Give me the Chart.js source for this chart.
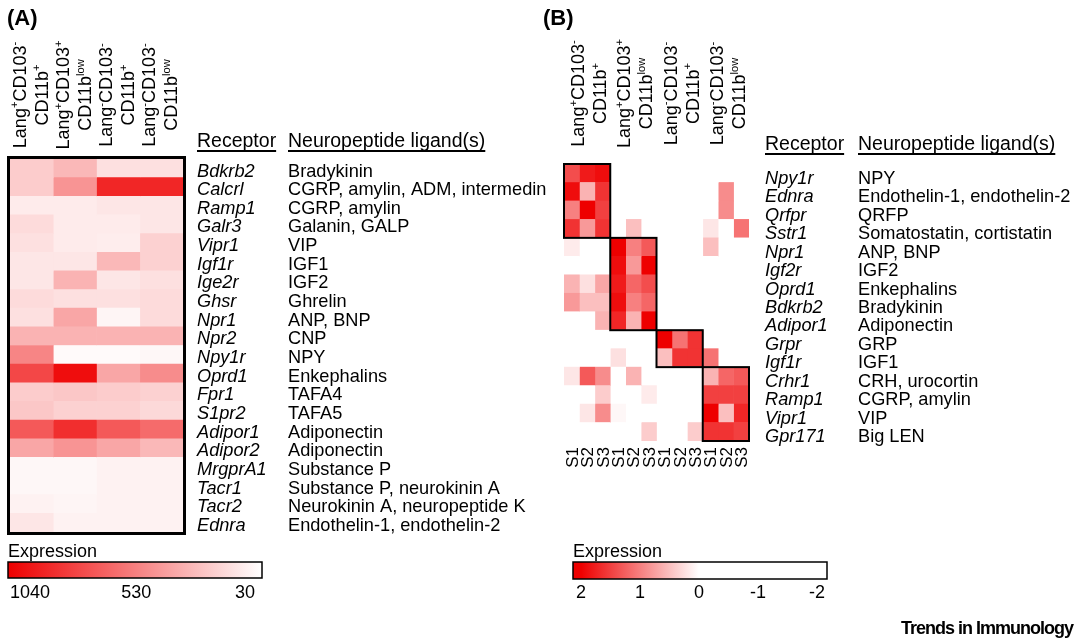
<!DOCTYPE html>
<html>
<head>
<meta charset="utf-8">
<script src="https://cdn.jsdelivr.net/npm/chart.js@4.4.1/dist/chart.umd.min.js"></script>
<style>
  html, body { margin: 0; padding: 0; background: #fff; }
  #wrap { position: relative; width: 1080px; height: 642px; overflow: hidden; }
  canvas { position: absolute; top: 0; }
  #chartA { left: 0; }
  #chartB { left: 540px; }
</style>
</head>
<body>
<div id="wrap">
  <canvas id="chartA" width="560" height="642"></canvas>
  <canvas id="chartB" width="540" height="642"></canvas>
</div>
<script>
const FONT = '"Liberation Sans", Arial, Helvetica, sans-serif';

// ---- Panel A : expression (raw) ----
const receptorsA = ['Bdkrb2', 'Calcrl', 'Ramp1', 'Galr3', 'Vipr1', 'Igf1r', 'Ige2r', 'Ghsr', 'Npr1', 'Npr2',
  'Npy1r', 'Oprd1', 'Fpr1', 'S1pr2', 'Adipor1', 'Adipor2', 'MrgprA1', 'Tacr1', 'Tacr2', 'Ednra'];
const ligandsA = ['Bradykinin', 'CGRP, amylin, ADM, intermedin', 'CGRP, amylin', 'Galanin, GALP', 'VIP', 'IGF1',
  'IGF2', 'Ghrelin', 'ANP, BNP', 'CNP', 'NPY', 'Enkephalins', 'TAFA4', 'TAFA5', 'Adiponectin', 'Adiponectin',
  'Substance P', 'Substance P, neurokinin A', 'Neurokinin A, neuropeptide K', 'Endothelin-1, endothelin-2'];

// one array per cell population (column)
const exprLangPosCD103NegCD11bPos = [232, 232, 111, 171, 151, 131, 131, 171, 151, 333, 515, 757, 232, 252, 687, 384, 60, 60, 81, 131];
const exprLangPosCD103PosCD11bLow = [313, 454, 111, 111, 111, 131, 333, 151, 384, 333, 50, 990, 252, 212, 858, 454, 60, 60, 70, 81];
const exprLangNegCD103NegCD11bPos = [151, 889, 131, 111, 101, 313, 131, 151, 70, 333, 50, 384, 232, 212, 687, 384, 81, 81, 81, 81];
const exprLangNegCD103NegCD11bLow = [151, 889, 131, 131, 212, 212, 151, 171, 171, 333, 60, 485, 212, 182, 616, 313, 81, 81, 81, 81];
const exprMin = 30, exprMax = 1040;
const legendATicks = [1040, 530, 30];

// column header labels: [text, superscript?]
const cellTypes = [
  [[['Lang'], ['+', 1], ['CD103'], ['-', 1]], [['CD11b'], ['+', 1]]],
  [[['Lang'], ['+', 1], ['CD103'], ['+', 1]], [['CD11b'], ['low', 1]]],
  [[['Lang'], ['-', 1], ['CD103'], ['-', 1]], [['CD11b'], ['+', 1]]],
  [[['Lang'], ['-', 1], ['CD103'], ['-', 1]], [['CD11b'], ['low', 1]]]
];

// ---- Panel B : z-scores, 3 samples per population ----
const receptorsB = ['Npy1r', 'Ednra', 'Qrfpr', 'Sstr1', 'Npr1', 'Igf2r', 'Oprd1', 'Bdkrb2', 'Adipor1', 'Grpr',
  'Igf1r', 'Crhr1', 'Ramp1', 'Vipr1', 'Gpr171'];
const ligandsB = ['NPY', 'Endothelin-1, endothelin-2', 'QRFP', 'Somatostatin, cortistatin', 'ANP, BNP', 'IGF2',
  'Enkephalins', 'Bradykinin', 'Adiponectin', 'GRP', 'IGF1', 'CRH, urocortin', 'CGRP, amylin', 'VIP', 'Big LEN'];
const samples = ['S1', 'S2', 'S3'];
// rows follow receptorsB, columns S1..S3 of each population in header order
const zScores = [
  [1.4, 1.8, 1.9, -1, -1, -1, -1, -1, -1, -1, -1, -1],
  [1.9, 0.6, 1.6, -1, -1, -1, -1, -1, -1, -1, 0.9, -1],
  [1.0, 2.0, 1.5, -1, -1, -1, -1, -1, -1, -1, 0.9, -1],
  [1.6, 0.8, 1.6, -1, 0.5, -1, -1, -1, -1, 0.2, -1, 1.1],
  [0.16, -1, -1, 2.0, 1.0, 1.3, -1, -1, -1, 0.5, -1, -1],
  [-1, -1, -1, 1.9, 0.8, 2.0, -1, -1, -1, -1, -1, -1],
  [0.6, 0.24, 0.7, 1.8, 1.2, 1.4, -1, -1, -1, -1, -1, -1],
  [0.8, 0.5, 0.5, 1.9, 1.0, 1.2, -1, -1, -1, -1, -1, -1],
  [-1, -1, 0.6, 1.7, 0.6, 2.0, -1, -1, -1, -1, -1, -1],
  [-1, -1, -1, -1, -1, -1, 2.0, 1.1, 1.6, -1, -1, -1],
  [-1, -1, -1, 0.24, -1, -1, 0.5, 1.6, 1.6, 1.1, -1, -1],
  [0.2, 1.3, 0.9, -1, 0.6, -1, -1, -1, -1, 0.6, 1.2, 1.3],
  [-1, -1, 0.4, -1, -1, 0.16, -1, -1, -1, 1.5, 1.5, 1.5],
  [-1, 0.2, 0.9, 0.06, -1, -1, -1, -1, -1, 2.0, 0.5, 1.7],
  [-1, -1, -1, -1, -1, 0.4, -1, -1, 0.4, 1.6, 1.6, 1.5]
];
// outlined blocks: first row, last row, first column, last column
const blocks = [[0, 3, 0, 2], [4, 8, 3, 5], [9, 10, 6, 8], [11, 14, 9, 11]];
const legendBTicks = [2, 1, 0, -1, -2];

const RED = [238, 0, 0];
function mix(t) {
  t = Math.max(0, Math.min(1, t));
  const c = RED.map(k => Math.round(255 + (k - 255) * t));
  return `rgb(${c[0]},${c[1]},${c[2]})`;
}
const colorA = v => mix((v - exprMin) / (exprMax - exprMin));
const colorB = z => mix(z / 2);

// rotated header with superscripts, baseline at x, centred on y
function drawRotated(ctx, segs, x, y, size) {
  ctx.save();
  ctx.translate(x, y);
  ctx.rotate(-Math.PI / 2);
  ctx.textAlign = 'left';
  ctx.textBaseline = 'alphabetic';
  let total = 0;
  segs.forEach(s => {
    ctx.font = `${s[1] ? size * 0.62 : size}px ${FONT}`;
    total += ctx.measureText(s[0]).width;
  });
  let px = -total / 2;
  segs.forEach(s => {
    ctx.font = `${s[1] ? size * 0.62 : size}px ${FONT}`;
    ctx.fillText(s[0], px, s[1] ? -size * 0.4 : 0);
    px += ctx.measureText(s[0]).width;
  });
  ctx.restore();
}

function drawTable(ctx, y, receptors, ligands, xr, xl, headY, offset) {
  ctx.fillStyle = '#000';
  ctx.textAlign = 'left';
  ctx.textBaseline = 'alphabetic';
  ctx.font = `19.5px ${FONT}`;
  ctx.fillText('Receptor', xr, headY);
  const wr = ctx.measureText('Receptor').width;
  ctx.fillText('Neuropeptide ligand(s)', xl, headY);
  const wl = ctx.measureText('Neuropeptide ligand(s)').width;
  ctx.fillRect(xr, headY + 3, wr, 2);
  ctx.fillRect(xl, headY + 3, wl, 2);
  receptors.forEach((r, i) => {
    const yy = y.getPixelForValue(i) + offset;
    ctx.font = `italic 18.2px ${FONT}`;
    ctx.fillText(r, xr, yy);
    ctx.font = `18.2px ${FONT}`;
    ctx.fillText(ligands[i], xl, yy);
  });
}

function drawLegend(ctx, x0, x1, y0, y1, vLeft, vRight, px0, px1, colLeft, colRight) {
  const map = v => px0 + (vLeft - v) / (vLeft - vRight) * (px1 - px0);
  ctx.fillStyle = '#000';
  ctx.font = `18px ${FONT}`;
  ctx.textAlign = 'left';
  ctx.fillText('Expression', x0, y0 - 5);
  const g = ctx.createLinearGradient(map(colLeft), 0, map(colRight), 0);
  g.addColorStop(0, mix(1));
  g.addColorStop(1, mix(0));
  ctx.fillStyle = g;
  ctx.fillRect(x0, y0, x1 - x0, y1 - y0);
  ctx.strokeStyle = '#000';
  ctx.lineWidth = 1.5;
  ctx.strokeRect(x0, y0, x1 - x0, y1 - y0);
  ctx.fillStyle = '#000';
  return map;
}

const panelA = {
  id: 'panelA',
  afterDatasetsDraw(chart) {
    const { ctx, chartArea: ca, scales: { x, y } } = chart;
    ctx.save();
    ctx.strokeStyle = '#000';
    ctx.lineWidth = 3;
    ctx.strokeRect(ca.left - 1.5, ca.top - 1.5, ca.right - ca.left + 3, ca.bottom - ca.top + 3);

    ctx.fillStyle = '#000';
    ctx.font = `bold 22px ${FONT}`;
    ctx.textAlign = 'left';
    ctx.fillText('(A)', 7, 25);

    cellTypes.forEach((lines, c) => {
      const cx = x.getPixelForValue(c + 0.5);
      drawRotated(ctx, lines[0], cx - 6, 95, 18);
      drawRotated(ctx, lines[1], cx + 16, 95, 18);
    });

    drawTable(ctx, y, receptorsA, ligandsA, 197, 288, 147, 8.2);

    const map = drawLegend(ctx, 8, 262, 562, 578, exprMax, exprMin, 8, 262, exprMax, exprMin);
    ctx.font = `18px ${FONT}`;
    legendATicks.forEach((v, i) => {
      const last = legendATicks.length - 1;
      ctx.textAlign = i === 0 ? 'left' : (i === last ? 'right' : 'center');
      const px = i === 0 ? map(v) + 2 : (i === last ? map(v) - 7 : map(v));
      ctx.fillText(String(v), px, 598);
    });
    ctx.restore();
  }
};

const panelB = {
  id: 'panelB',
  afterDatasetsDraw(chart) {
    const { ctx, chartArea: ca, scales: { x, y } } = chart;
    ctx.save();
    const rowH = (ca.bottom - ca.top) / receptorsB.length;
    ctx.strokeStyle = '#000';
    ctx.lineWidth = 2;
    blocks.forEach(([rs, re, cs, ce]) => {
      const x0 = x.getPixelForValue(cs), x1 = x.getPixelForValue(ce + 1);
      const y0 = y.getPixelForValue(rs) - rowH / 2, y1 = y.getPixelForValue(re) + rowH / 2;
      ctx.strokeRect(x0, y0, x1 - x0, y1 - y0);
    });

    ctx.fillStyle = '#000';
    ctx.font = `bold 22px ${FONT}`;
    ctx.textAlign = 'left';
    ctx.fillText('(B)', 3, 25);

    cellTypes.forEach((lines, g) => {
      const cx = x.getPixelForValue(g * 3 + 1.5);
      drawRotated(ctx, lines[0], cx - 3, 93.5, 18);
      drawRotated(ctx, lines[1], cx + 19, 93.5, 18);
    });

    // sample labels under the heatmap
    for (let c = 0; c < 12; c++) {
      const cx = x.getPixelForValue(c + 0.5);
      ctx.save();
      ctx.translate(cx + 6, ca.bottom + 6);
      ctx.rotate(-Math.PI / 2);
      ctx.font = `17px ${FONT}`;
      ctx.textAlign = 'right';
      ctx.fillText(samples[c % 3], 0, 0);
      ctx.restore();
    }

    drawTable(ctx, y, receptorsB, ligandsB, 225, 318, 150, 10.5);

    const map = drawLegend(ctx, 33, 287, 562, 579, 2, -2, 41, 277, 2, 0);
    ctx.font = `18px ${FONT}`;
    ctx.textAlign = 'center';
    legendBTicks.forEach(v => ctx.fillText(String(v), map(v), 598));

    ctx.font = `bold 18px ${FONT}`;
    ctx.textAlign = 'right';
    ctx.letterSpacing = '-1px';
    ctx.fillText('Trends in Immunology', 533, 634);
    ctx.restore();
  }
};

const commonOptions = (nCols, padding) => ({
  responsive: false,
  animation: false,
  indexAxis: 'y',
  layout: { padding },
  scales: {
    x: { type: 'linear', min: 0, max: nCols, display: false },
    y: { display: false }
  },
  plugins: { legend: { display: false }, tooltip: { enabled: false } }
});

const exprA = [exprLangPosCD103NegCD11bPos, exprLangPosCD103PosCD11bLow, exprLangNegCD103NegCD11bPos, exprLangNegCD103NegCD11bLow];

new Chart(document.getElementById('chartA'), {
  type: 'bar',
  data: {
    labels: receptorsA,
    datasets: exprA.map((vals, c) => ({
      data: vals.map(() => [c, c + 1]),
      backgroundColor: vals.map(colorA),
      borderWidth: 0,
      grouped: false,
      categoryPercentage: 1,
      barPercentage: 1
    }))
  },
  options: commonOptions(4, { left: 10, right: 377, top: 159, bottom: 110 }),
  plugins: [panelA]
});

new Chart(document.getElementById('chartB'), {
  type: 'bar',
  data: {
    labels: receptorsB,
    datasets: zScores[0].map((_, c) => ({
      data: zScores.map(() => [c, c + 1]),
      backgroundColor: zScores.map(row => colorB(row[c])),
      borderWidth: 0,
      grouped: false,
      categoryPercentage: 1,
      barPercentage: 1
    }))
  },
  options: commonOptions(12, { left: 24, right: 331, top: 164, bottom: 201 }),
  plugins: [panelB]
});
</script>
</body>
</html>
